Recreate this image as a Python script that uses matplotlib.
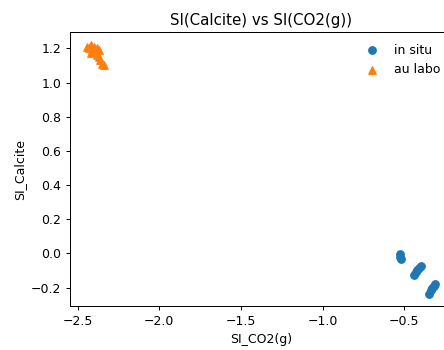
import matplotlib
matplotlib.use("Agg")
import matplotlib.pyplot as plt

# in situ measurements
situ_co2 = [-0.53, -0.525, -0.52, -0.44, -0.43, -0.42, -0.41, -0.40,
            -0.35, -0.34, -0.33, -0.32, -0.315]
situ_calcite = [-0.005, -0.02, -0.035, -0.125, -0.11, -0.10, -0.085, -0.075,
                -0.235, -0.215, -0.20, -0.19, -0.18]

# lab measurements
labo_co2 = [-2.44, -2.43, -2.42, -2.41, -2.40, -2.39, -2.38, -2.37,
            -2.36, -2.35, -2.34, -2.37, -2.38, -2.42]
labo_calcite = [1.21, 1.20, 1.22, 1.19, 1.21, 1.18, 1.16, 1.15,
                1.13, 1.11, 1.10, 1.19, 1.20, 1.17]

dpi = 90
fig = plt.figure(figsize=(444 / dpi, 350 / dpi), dpi=dpi)
ax = fig.add_axes([70 / 444, 44 / 350, 382 / 444, 273.5 / 350])

ax.scatter(situ_co2, situ_calcite, label="in situ")
ax.scatter(labo_co2, labo_calcite, marker="^", label="au labo")

ax.set_title("SI(Calcite) vs SI(CO2(g))")
ax.set_xlabel("SI_CO2(g)")
ax.set_ylabel("SI_Calcite")
ax.legend(loc="upper right", frameon=False)

fig.savefig("out.png", dpi=dpi)
